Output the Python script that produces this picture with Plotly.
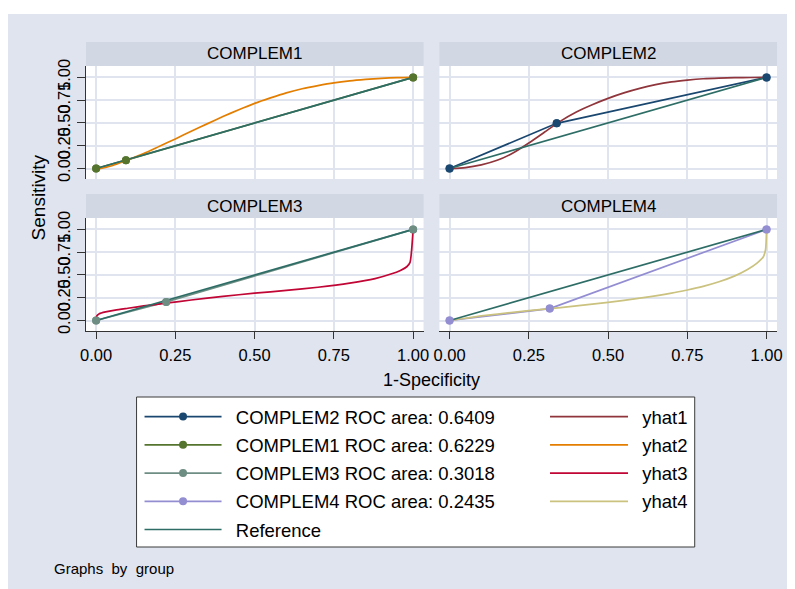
import plotly.graph_objects as go

# ---------------- data ----------------
panel_titles = ["COMPLEM1", "COMPLEM2", "COMPLEM3", "COMPLEM4"]
tick_vals = [0, 0.25, 0.5, 0.75, 1]
tick_text = ["0.00", "0.25", "0.50", "0.75", "1.00"]

ref_x = [0, 1]
ref_y = [0, 1]

# empirical ROC points
roc1_x = [0, 0.094, 1]
roc1_y = [0, 0.092, 1]
roc2_x = [0, 0.338, 1]
roc2_y = [0, 0.496, 1]
roc3_x = [0, 0.221, 1]
roc3_y = [0, 0.204, 1]
roc4_x = [0, 0.316, 1]
roc4_y = [0, 0.131, 1]

roc_names = ["COMPLEM1 ROC area: 0.6229", "COMPLEM2 ROC area: 0.6409",
             "COMPLEM3 ROC area: 0.3018", "COMPLEM4 ROC area: 0.2435"]

# fitted curves
yhat1_x = [0, 0.05, 0.1, 0.15, 0.2, 0.25, 0.3, 0.35, 0.4, 0.45, 0.5, 0.55, 0.6, 0.65, 0.7, 0.75, 0.8, 0.85, 0.9, 0.95, 1]
yhat1_y = [0, 0.01, 0.04, 0.09, 0.17, 0.28, 0.40, 0.52, 0.62, 0.70, 0.77, 0.83, 0.88, 0.92, 0.95, 0.97, 0.985, 0.993, 0.997, 0.999, 1]

yhat2_x = [0, 0.05, 0.1, 0.15, 0.2, 0.25, 0.3, 0.35, 0.4, 0.45, 0.5, 0.55, 0.6, 0.65, 0.7, 0.75, 0.8, 0.85, 0.9, 0.95, 1]
yhat2_y = [-0.01, 0.03, 0.095, 0.165, 0.245, 0.325, 0.41, 0.49, 0.57, 0.645, 0.715, 0.775, 0.83, 0.875, 0.91, 0.94, 0.962, 0.978, 0.99, 0.997, 1]

yhat3_x = [0, 0.002, 0.01, 0.03, 0.06, 0.1, 0.15, 0.22, 0.3, 0.4, 0.5, 0.6, 0.7, 0.8, 0.88, 0.93, 0.96, 0.98, 0.99, 1]
yhat3_y = [0, 0.05, 0.075, 0.095, 0.115, 0.135, 0.16, 0.19, 0.225, 0.265, 0.30, 0.33, 0.365, 0.41, 0.46, 0.51, 0.55, 0.59, 0.635, 1]

yhat4_x = [0, 0.05, 0.1, 0.2, 0.3, 0.4, 0.5, 0.6, 0.7, 0.75, 0.8, 0.85, 0.9, 0.94, 0.97, 0.99, 0.997, 1]
yhat4_y = [0, 0.025, 0.05, 0.09, 0.125, 0.16, 0.2, 0.245, 0.30, 0.335, 0.375, 0.425, 0.49, 0.56, 0.63, 0.70, 0.78, 1]

yhat_names = ["yhat1", "yhat2", "yhat3", "yhat4"]

# ---------------- styling ----------------
FONT = "Liberation Sans, Arial, sans-serif"
BG = "#dfe4ef"
STRIP = "#d2d8e3"
AXC = "#333333"
C_NAVY, C_MAROON, C_FOREST, C_ORANGE = "#1a476f", "#90353b", "#55752f", "#e37e00"
C_TEAL, C_CRAN, C_LAV, C_KHAKI, C_EMER = "#6e8e84", "#c10534", "#938dd2", "#cac27e", "#2d6d66"

OFF = 8  # page body margin
W, H = 787, 581
ML, MR, MT, MB = 78, 12, 34, 258
PW = W - ML - MR
PH = H - MT - MB


def px_x(px):
    """page pixel x -> paper coordinate"""
    return (px - OFF - ML) / PW


def px_y(py):
    """page pixel y -> paper coordinate"""
    return (H - MB - (py - OFF)) / PH


dom_left = [0, px_x(426.5)]
dom_right = [px_x(442.5), 1]
dom_top = [px_y(179), px_y(66)]
dom_bot = [0, px_y(218)]

fig = go.Figure()

ax = {1: ("x", "y"), 2: ("x2", "y2"), 3: ("x3", "y3"), 4: ("x4", "y4")}

panels = [
    (1, roc1_x, roc1_y, C_FOREST, roc_names[0], 2, yhat2_x, yhat2_y, C_ORANGE, yhat_names[1], 2),
    (2, roc2_x, roc2_y, C_NAVY, roc_names[1], 1, yhat1_x, yhat1_y, C_MAROON, yhat_names[0], 1),
    (3, roc3_x, roc3_y, C_TEAL, roc_names[2], 3, yhat3_x, yhat3_y, C_CRAN, yhat_names[2], 3),
    (4, roc4_x, roc4_y, C_LAV, roc_names[3], 4, yhat4_x, yhat4_y, C_KHAKI, yhat_names[3], 4),
]

PAD = "\u2002"
LW = 1.7

for (p, rx, ry, rc, rn, rr, hx, hy, hc, hn, hr) in panels:
    xa, ya = ax[p]
    fig.add_trace(go.Scatter(x=rx, y=ry, mode="lines+markers", xaxis=xa, yaxis=ya,
                             line=dict(color=rc, width=LW), marker=dict(color=rc, size=8),
                             name=PAD + rn, legendgroup=rn, legendrank=rr, legend="legend"))
    fig.add_trace(go.Scatter(x=hx, y=hy, mode="lines", xaxis=xa, yaxis=ya,
                             line=dict(color=hc, width=LW, shape="spline", smoothing=0.6),
                             name=PAD + hn, legendgroup=hn, legendrank=hr, legend="legend2"))
    fig.add_trace(go.Scatter(x=ref_x, y=ref_y, mode="lines", xaxis=xa, yaxis=ya,
                             line=dict(color=C_EMER, width=LW), name=PAD + "Reference",
                             legendgroup="ref", showlegend=(p == 1), legendrank=5,
                             legend="legend"))
    # ROC markers redrawn on top of the lines
    fig.add_trace(go.Scatter(x=rx, y=ry, mode="markers", xaxis=xa, yaxis=ya,
                             marker=dict(color=rc, size=8), showlegend=False,
                             legendgroup=rn, hoverinfo="skip"))

axis_common = dict(tickmode="array", tickvals=tick_vals, ticktext=tick_text,
                   showgrid=True, gridcolor=BG, gridwidth=2, zeroline=False,
                   tickfont=dict(size=16.5, color="black", family=FONT))

layout = dict(
    width=W, height=H,
    margin=dict(l=ML, r=MR, t=MT, b=MB),
    paper_bgcolor=BG, plot_bgcolor="white",
    font=dict(family=FONT, color="black"),
    showlegend=True,
)

for p in range(1, 5):
    xs = "xaxis" if p == 1 else f"xaxis{p}"
    ys = "yaxis" if p == 1 else f"yaxis{p}"
    bottom = p in (3, 4)
    left = p in (1, 3)
    xd = dict(axis_common)
    xd.update(range=[-0.032, 1.033], domain=dom_left if left else dom_right,
              anchor="y" if p == 1 else f"y{p}")
    if bottom:
        xd.update(showline=True, linecolor=AXC, linewidth=1, ticks="outside", ticklen=7,
                  tickcolor=AXC, showticklabels=True, ticklabelstandoff=2)
    else:
        xd.update(showline=False, ticks="", showticklabels=False)
    yd = dict(axis_common)
    yd.update(range=[-0.115, 1.125], domain=dom_bot if bottom else dom_top,
              anchor="x" if p == 1 else f"x{p}")
    if left:
        yd.update(showline=True, linecolor=AXC, linewidth=1, ticks="outside", ticklen=8,
                  tickcolor=AXC, showticklabels=True, tickangle=-90)
    else:
        yd.update(showline=False, ticks="", showticklabels=False)
    layout[xs] = xd
    layout[ys] = yd

# legends
layout["legend"] = dict(x=px_x(140), y=px_y(398), xanchor="left", yanchor="top",
                        orientation="v", bgcolor="rgba(0,0,0,0)", borderwidth=0,
                        font=dict(size=18.5, family=FONT, color="black"),
                        itemwidth=77, tracegroupgap=1.2, traceorder="grouped")
layout["legend2"] = dict(x=px_x(549), y=px_y(398), xanchor="left", yanchor="top",
                         orientation="v", bgcolor="rgba(0,0,0,0)", borderwidth=0,
                         font=dict(size=18.5, family=FONT, color="black"),
                         itemwidth=78, tracegroupgap=1.2, traceorder="grouped")

shapes = []
# extra white strip at the top of the image
shapes.append(dict(type="rect", xref="paper", yref="paper", x0=px_x(0), x1=px_x(800), y0=px_y(14), y1=px_y(0),
                   fillcolor="white", line=dict(width=0), layer="below"))
# header strips
strips = [(dom_left, (px_y(66), px_y(42))), (dom_right, (px_y(66), px_y(42))),
          (dom_left, (px_y(218), px_y(194))), (dom_right, (px_y(218), px_y(194)))]
annotations = []
for (xd_, (y0, y1)), title in zip(strips, panel_titles):
    shapes.append(dict(type="rect", xref="paper", yref="paper", x0=xd_[0], x1=xd_[1], y0=y0, y1=y1,
                       fillcolor=STRIP, line=dict(width=0), layer="below"))
    annotations.append(dict(text=title, xref="paper", yref="paper", x=(xd_[0] + xd_[1]) / 2,
                            y=(y0 + y1) / 2, showarrow=False, xanchor="center", yanchor="middle",
                            font=dict(size=17, family=FONT, color="black")))
# legend box
shapes.append(dict(type="rect", xref="paper", yref="paper", x0=px_x(137), x1=px_x(700),
                   y0=px_y(547), y1=px_y(397), fillcolor="white",
                   line=dict(color="#3a3a3a", width=1), layer="below"))
layout["shapes"] = shapes

annotations.append(dict(text="Sensitivity", xref="paper", yref="paper", x=px_x(38), y=px_y(197),
                        textangle=-90, showarrow=False, xanchor="center", yanchor="middle",
                        font=dict(size=19, family=FONT, color="black")))
annotations.append(dict(text="1-Specificity", xref="paper", yref="paper", x=px_x(434.5), y=px_y(380),
                        showarrow=False, xanchor="center", yanchor="middle",
                        font=dict(size=18, family=FONT, color="black")))
annotations.append(dict(text="Graphs\u00a0 by\u00a0 group", xref="paper", yref="paper", x=px_x(52), y=px_y(568),
                        showarrow=False, xanchor="left", yanchor="middle",
                        font=dict(size=15, family=FONT, color="black")))
layout["annotations"] = annotations

fig.update_layout(**layout)
fig.write_html("out.html")
